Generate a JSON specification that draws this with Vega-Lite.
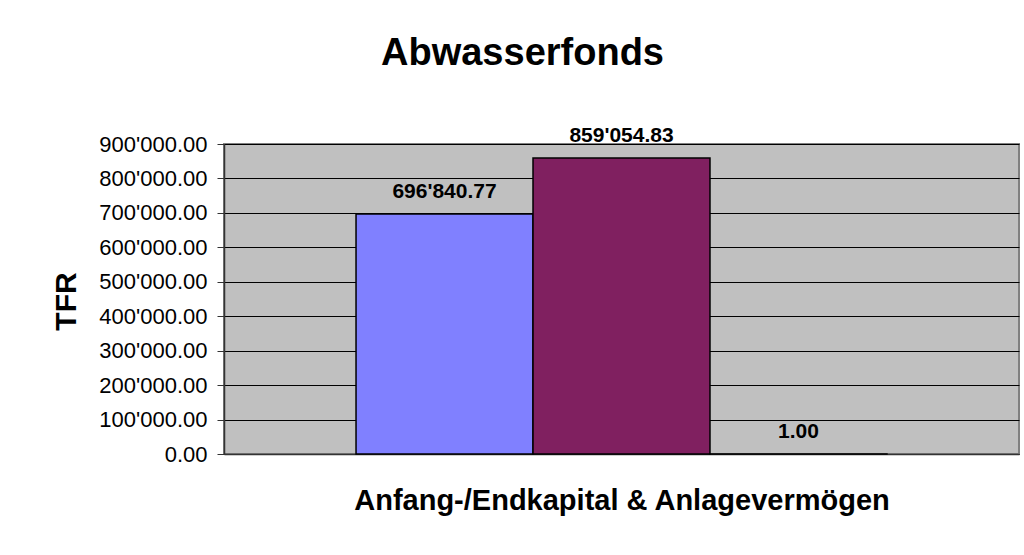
{
  "$schema": "https://vega.github.io/schema/vega-lite/v6.json",
  "autosize": {"type": "none"},
  "width": 795,
  "height": 310,
  "padding": {"left": 224, "top": 144, "right": 5, "bottom": 101},
  "background": "white",
  "title": {
    "text": "Abwasserfonds",
    "font": "Liberation Sans",
    "fontSize": 38,
    "fontWeight": "bold",
    "color": "black",
    "anchor": "middle",
    "frame": "group",
    "baseline": "alphabetic",
    "dx": -99,
    "offset": 22
  },
  "data": {
    "values": [
      {"series": "Anfangskapital", "value": 696840.77},
      {"series": "Endkapital", "value": 859054.83},
      {"series": "Anlagevermögen", "value": 1.0}
    ]
  },
  "encoding": {
    "x": {
      "field": "series",
      "type": "nominal",
      "sort": null,
      "scale": {"paddingInner": 0, "paddingOuter": 0.746},
      "axis": {
        "title": "Anfang-/Endkapital & Anlagevermögen",
        "titleFont": "Liberation Sans",
        "titleFontSize": 29,
        "titleFontWeight": "bold",
        "titleColor": "black",
        "titleBaseline": "middle",
        "titleY": 46,
        "labels": false,
        "ticks": false,
        "domainColor": "#333333",
        "domainWidth": 1.5,
        "grid": false
      }
    },
    "y": {
      "field": "value",
      "type": "quantitative",
      "scale": {"domain": [0, 900000], "nice": false, "zero": true},
      "axis": {
        "title": "TFR",
        "titleFont": "Liberation Sans",
        "titleFontSize": 30,
        "titleFontWeight": "bold",
        "titleColor": "black",
        "titleAngle": -90,
        "titleAlign": "center",
        "titleBaseline": "middle",
        "titleX": -158,
        "titleY": 157,
        "values": [0, 100000, 200000, 300000, 400000, 500000, 600000, 700000, 800000, 900000],
        "format": ",.2f",
        "labelFont": "Liberation Sans",
        "labelFontSize": 22,
        "labelColor": "black",
        "labelPadding": 10,
        "tickSize": 7,
        "tickColor": "#333333",
        "domainColor": "#333333",
        "domainWidth": 1.5,
        "grid": true,
        "gridColor": "black",
        "gridWidth": 1,
        "gridOpacity": 1
      }
    }
  },
  "layer": [
    {
      "mark": {"type": "bar", "stroke": "black", "strokeWidth": 1.5},
      "encoding": {
        "color": {
          "field": "series",
          "type": "nominal",
          "scale": {
            "domain": ["Anfangskapital", "Endkapital", "Anlagevermögen"],
            "range": ["#8080FF", "#802060", "#FFFFCC"]
          },
          "legend": null
        }
      }
    },
    {
      "mark": {
        "type": "text",
        "font": "Liberation Sans",
        "fontSize": 21,
        "fontWeight": "bold",
        "color": "black",
        "baseline": "alphabetic",
        "dy": -16
      },
      "encoding": {
        "text": {"field": "value", "type": "quantitative", "format": ",.2f"}
      }
    }
  ],
  "config": {
    "locale": {
      "number": {"decimal": ".", "thousands": "'", "grouping": [3], "currency": ["", ""]}
    },
    "view": {"fill": "#C0C0C0", "stroke": "#808080", "strokeWidth": 2}
  }
}
